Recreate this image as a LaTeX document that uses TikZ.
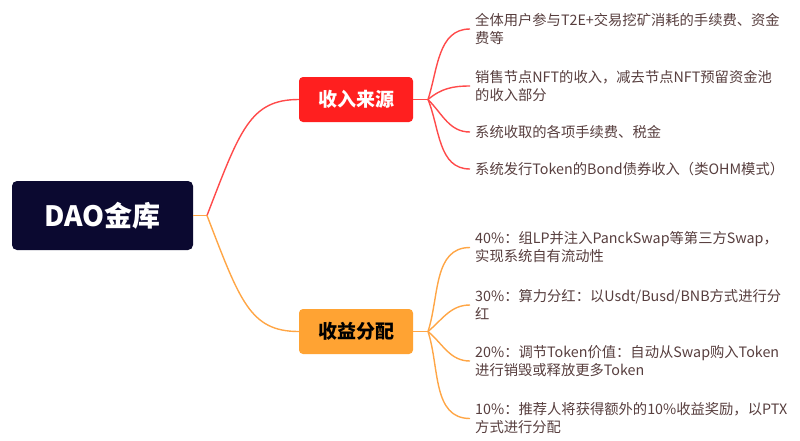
\documentclass[tikz,border=0pt]{standalone}
\usepackage{fontspec}
\setmainfont{Noto Sans CJK SC}
\usetikzlibrary{positioning}

\definecolor{rootblue}{HTML}{0B0930}
\definecolor{topred}{HTML}{FF1F1F}
\definecolor{linered}{HTML}{FF4A4A}
\definecolor{botorange}{HTML}{FFA333}
\definecolor{lineorange}{HTML}{FFA646}
\definecolor{leaftext}{HTML}{573E3E}

\tikzstyle{rootbox} = [rectangle, rounded corners=5pt,
minimum width=181pt, minimum height=69pt,
fill=rootblue, text=white, font=\fontsize{28}{30}\selectfont\bfseries]
\tikzstyle{topic} = [rectangle, rounded corners=4pt,
minimum width=114pt, minimum height=45pt,
font=\fontsize{19}{21}\selectfont\bfseries]
\tikzstyle{leaf} = [anchor=west, align=left, inner xsep=5pt,
text=leaftext, font=\fontsize{14.3}{18}\selectfont]
\tikzstyle{redline} = [linered, line width=1.4pt]
\tikzstyle{orangeline} = [lineorange, line width=1.4pt]

\begin{document}
\begin{tikzpicture}[x=1pt, y=-1pt]
\useasboundingbox (0,0) rectangle (800,440);

% Nodes
\node[rootbox] (dao) at (102.5,215.5) {DAO金库};
\node[topic, fill=topred, text=white] (income) at (356,99.5) {收入来源};
\node[topic, fill=botorange, text=black] (payout) at (356,331.5) {收益分配};

\coordinate (daofork) at (207,215.5);
\coordinate (incfork) at (428,99.5);
\coordinate (payfork) at (428,331.5);

\node[leaf] (inc1) at (470,29) {全体用户参与T2E+交易挖矿消耗的手续费、资金\\费等};
\node[leaf] (inc2) at (470,86) {销售节点NFT的收入，减去节点NFT预留资金池\\的收入部分};
\node[leaf] (inc3) at (470,132) {系统收取的各项手续费、税金};
\node[leaf] (inc4) at (470,169) {系统发行Token的Bond债券收入（类OHM模式）};

\node[leaf] (pay1) at (470,247.5) {40\%：组LP并注入PanckSwap等第三方Swap，\\实现系统自有流动性};
\node[leaf] (pay2) at (470,305) {30\%：算力分红：以Usdt/Busd/BNB方式进行分\\红};
\node[leaf] (pay3) at (470,361) {20\%：调节Token价值：自动从Swap购入Token\\进行销毁或释放更多Token};
\node[leaf] (pay4) at (470,418.5) {10\%：推荐人将获得额外的10\%收益奖励，以PTX\\方式进行分配};

% Connectors
\draw[orangeline] (dao.east) -- (daofork);
\draw[redline] (daofork) .. controls (240,130) and (250,99.5) .. (income.west);
\draw[orangeline] (daofork) .. controls (240,301) and (250,331.5) .. (payout.west);

\draw[redline] (income.east) -- (incfork);
\draw[redline] (incfork) to[out=72, in=180] (inc1.west);
\draw[redline] (incfork) to[out=40, in=180] (inc2.west);
\draw[redline] (incfork) to[out=-45, in=180] (inc3.west);
\draw[redline] (incfork) to[out=-68, in=180] (inc4.west);

\draw[orangeline] (payout.east) -- (payfork);
\draw[orangeline] (payfork) to[out=72, in=180] (pay1.west);
\draw[orangeline] (payfork) to[out=40, in=180] (pay2.west);
\draw[orangeline] (payfork) to[out=-40, in=180] (pay3.west);
\draw[orangeline] (payfork) to[out=-72, in=180] (pay4.west);

\end{tikzpicture}
\end{document}
